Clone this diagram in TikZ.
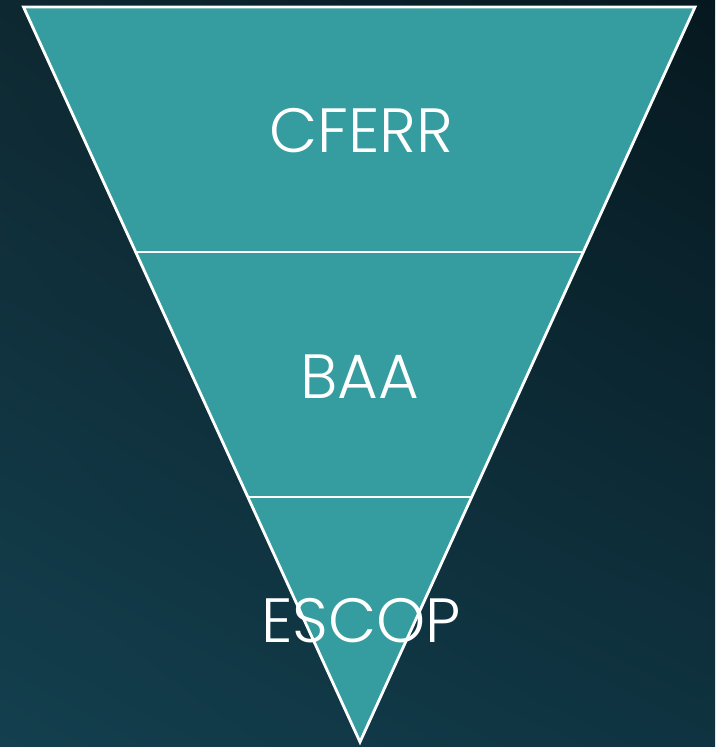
\documentclass[tikz,border=0pt]{standalone}
\usepackage{fontspec}
\usetikzlibrary{shadings}
\setmainfont{Poppins}[UprightFont={* Light}]
\definecolor{bgTR}{HTML}{06181F}
\definecolor{bgTL}{HTML}{0E2831}
\definecolor{bgBL}{HTML}{133F4E}
\definecolor{bgBR}{HTML}{0F3340}
\definecolor{teal}{HTML}{359D9F}
\tikzset{
  edge/.style={draw=white, line width=2.8pt, line join=miter},
  label/.style={text=white, font=\fontsize{62.5}{62.5}\selectfont, inner sep=0pt, anchor=base}
}
\begin{document}
\begin{tikzpicture}[x=1pt,y=-1pt]
\shade[upper left=bgTL, upper right=bgTR, lower left=bgBL, lower right=bgBR] (0,0) rectangle (715,747);
\useasboundingbox (0,0) rectangle (715,747);
\coordinate (tl) at (23.5,7);
\coordinate (tr) at (695,7);
\coordinate (bt) at (360,742);
\coordinate (l1) at (135.7,252);
\coordinate (r1) at (583.3,252);
\coordinate (l2) at (247.8,497);
\coordinate (r2) at (471.7,497);
\fill[teal] (tl) -- (tr) -- (bt) -- cycle;
\draw[edge] (tl) -- (tr) -- (bt) -- cycle;
\draw[edge] (l1) -- (r1);
\draw[edge] (l2) -- (r2);
\node[label] (cferr) at (361,152) {CFERR};
\node[label] (baa) at (360,398) {BAA};
\node[label] (escop) at (361,642) {ESCOP};
\end{tikzpicture}
\end{document}
